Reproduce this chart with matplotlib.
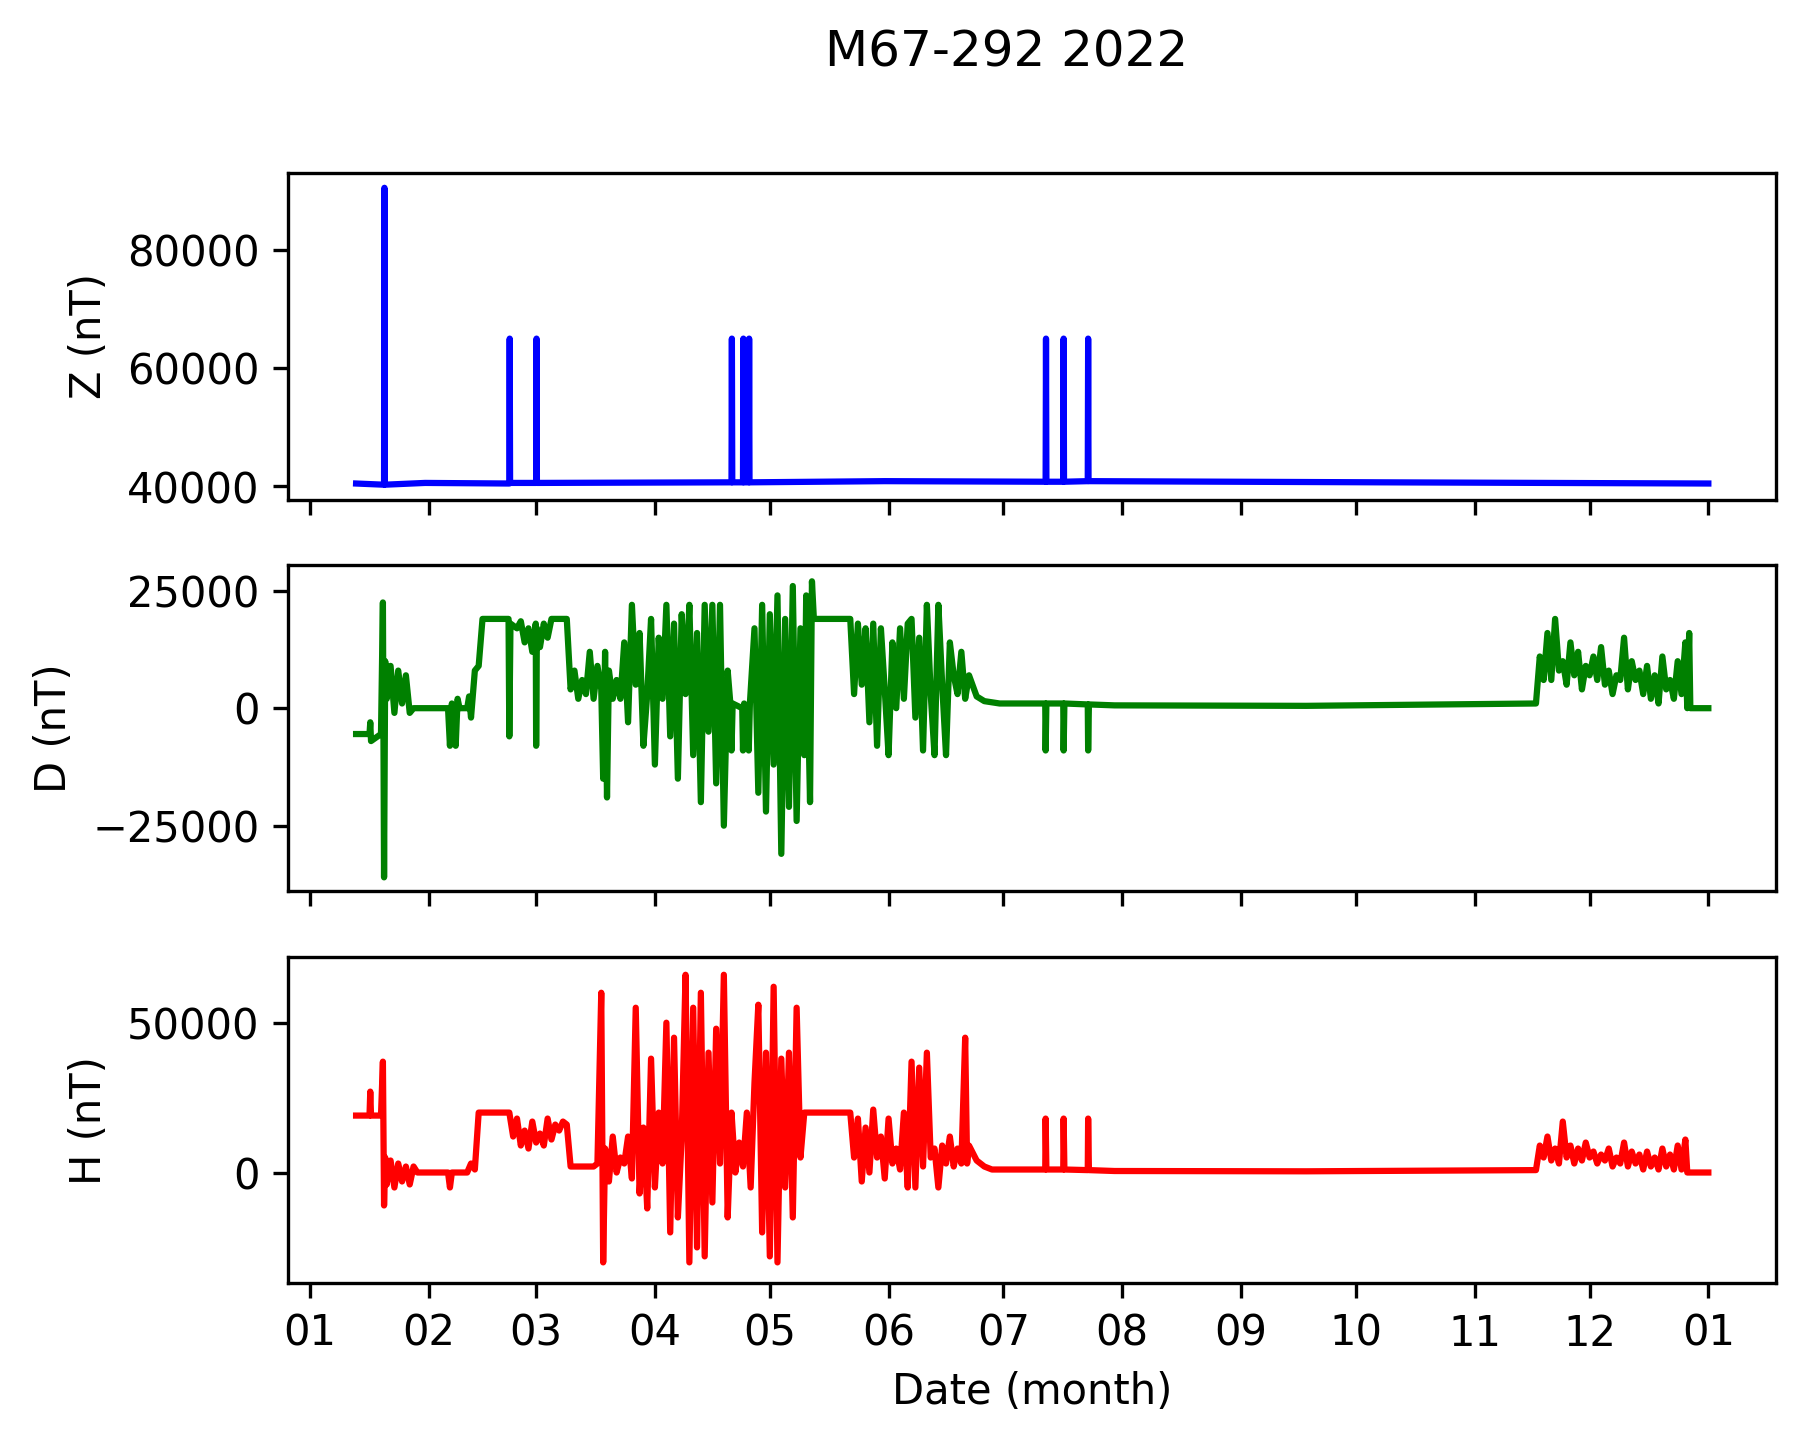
import matplotlib
matplotlib.use("Agg")
import matplotlib.pyplot as plt
import matplotlib.dates as mdates
import datetime as dt

title = "M67-292 2022"
# (day since 2022-01-01, value)
z_points = [(12, 40500), (19.3, 40300), (19.4, 90500), (19.5, 40300), (30, 40600), (52, 40500), (52.1, 65000),
            (52.2, 40600), (59, 40600), (59.1, 65000), (59.2, 40600), (110, 40700), (110.1, 65000), (110.2, 40700),
            (113, 40700), (113.1, 65000), (113.2, 40700), (114.5, 40700), (114.6, 65000), (114.7, 40700),
            (150, 40900), (192, 40800), (192.1, 65000), (192.2, 40800), (196.6, 40800), (196.7, 65000),
            (196.8, 40800), (203, 40900), (203.1, 65000), (203.2, 40900), (280, 40700), (365, 40500)]

d_points = [(12, -5500), (15.5, -5500), (15.7, -3000), (15.9, -7000), (18.5, -5500), (19, 22500), (19.3, -36000),
            (19.6, 10000), (20, 2000), (21, 9000), (22, -1000), (23, 8000), (24, 1000), (25, 7000), (26, -1000),
            (27, 0), (36, 0), (36.5, -8000), (37, 1000), (38, -8000), (38.5, 2000), (39, 0), (41, 0), (41.5, 2500),
            (42, -2000), (43, 8000), (44, 9000), (45, 19000), (51.8, 19000), (52, -6000), (52.3, 18000),
            (54, 17000), (55, 18500), (56, 14000), (57, 17000), (58, 12000), (58.9, 18000), (59, -8000),
            (59.2, 17000), (60, 13000), (61, 18000), (62, 15000), (63, 19000), (67, 19000), (68, 4000),
            (69, 8000), (70, 2000), (71, 6000), (72, 3000), (73, 12000), (74, 2000), (75, 9000), (76, 4000),
            (76.5, -15000), (77, 12000), (77.5, -19000), (78, 8000), (79, 2000), (80, 6000), (81, 2000),
            (82, 14000), (83, -3000), (84, 22000), (85, 5000), (86, 16000), (87, -8000), (88, 3000),
            (89, 19000), (90, -12000), (91, 15000), (92, 2000), (93, 22000), (94, -6000), (95, 18000),
            (96, -15000), (97, 20000), (98, 3000), (99, 22000), (100, -10000), (101, 16000), (102, -20000),
            (103, 22000), (104, -5000), (105, 22000), (106, -16000), (107, 22000), (108, -25000), (109, 8000),
            (109.8, 0), (110, -9000), (110.3, 1000), (112.8, 0), (113, -9000), (113.3, 1000), (114.5, -9000),
            (114.8, 1000), (116, 17000), (117, -18000), (118, 22000), (119, -22000), (120, 20000),
            (121, -12000), (122, 24000), (123, -31000), (124, 19000), (125, -21000), (126, 26000),
            (127, -24000), (128, 17000), (129, -10000), (129.5, 24000), (130, 0), (130.5, -20000), (131, 27000),
            (131.5, 19000), (141, 19000), (142, 3000), (143, 18000), (144, 5000), (145, 17000), (146, -3000),
            (147, 18000), (148, -8000), (149, 17000), (150, 4000), (151, -10000), (152, 14000), (153, 0),
            (154, 17000), (155, 2000), (156, 18000), (157, 19000), (158, -2000), (159, 15000), (160, -9000),
            (161, 22000), (162, 3000), (163, -10000), (164, 22000), (165, 5000), (166, -10000), (167, 14000),
            (168, 7000), (169, 3000), (170, 12000), (171, 2000), (172, 7000), (174, 2500), (176, 1500),
            (180, 1000), (191.9, 1000), (192, -9000), (192.2, 1000), (196.6, 1000), (196.7, -9000),
            (196.9, 1000), (203, 800), (203.1, -9000), (203.3, 800), (210, 600), (260, 500), (320, 1000),
            (321, 11000), (322, 6000), (323, 16000), (324, 6000), (325, 19000), (326, 8000), (327, 10000),
            (328, 5000), (329, 14000), (330, 7000), (331, 12000), (332, 4000), (333, 9000), (334, 7000),
            (335, 11000), (336, 6000), (337, 13000), (338, 5000), (339, 8000), (340, 3000), (341, 7000),
            (342, 6000), (343, 15000), (344, 4000), (345, 10000), (346, 6000), (347, 8000), (348, 3000),
            (349, 9000), (350, 2000), (351, 7000), (352, 1000), (353, 11000), (354, 4000), (355, 6000),
            (356, 2000), (357, 10000), (358, 3000), (359, 14000), (359.5, 0), (360, 16000), (360.3, 0),
            (365, 0)]

h_points = [(12, 19000), (15.5, 19000), (15.7, 27000), (15.9, 19000), (18.5, 19000), (19, 37000),
            (19.3, -11000), (19.6, 5000), (20, -4000), (21, 4000), (22, -5000), (23, 3000), (24, -3000),
            (25, 2000), (26, -4000), (27, 2000), (28, 0), (36, 0), (36.5, -5000), (37, 0), (41, 0), (42, 3000),
            (43, 1000), (44, 20000), (52, 20000), (53, 12000), (54, 18000), (55, 9000), (56, 14000), (57, 8000),
            (58, 17000), (59, 10000), (60, 13000), (61, 9000), (62, 18000), (63, 11000), (64, 16000),
            (65, 14000), (66, 17000), (67, 16000), (68, 2000), (74, 2000), (75, 3000), (76, 60000),
            (76.5, -30000), (77, 8000), (78, -3000), (79, 12000), (80, 0), (81, 5000), (82, 3000), (83, 12000),
            (84, -2000), (85, 55000), (86, -7000),
            (87, 15000), (88, -12000), (89, 38000), (90, -5000), (91, 20000), (92, 3000), (93, 50000),
            (94, -20000), (95, 45000), (96, -15000), (97, 12000), (98, 66000), (99, -30000), (100, 55000),
            (101, -25000), (102, 60000), (103, -28000), (104, 40000), (105, -10000), (106, 48000), (107, 3000),
            (108, 66000), (109, -15000), (110, 20000), (111, 0), (112, 10000), (113, 2000), (114, 20000),
            (115, -5000), (116, 30000), (117, 56000), (118, -20000), (119, 40000), (120, -28000), (121, 62000),
            (122, -30000), (123, 38000), (124, -5000), (125, 40000), (126, -15000), (127, 55000), (128, 5000),
            (129, 20000), (141, 20000), (142, 5000), (143, 18000), (144, -3000), (145, 15000), (146, 0),
            (147, 21000), (148, 5000), (149, 12000), (150, -2000), (151, 18000), (152, 3000), (153, 8000),
            (154, 1000), (155, 20000), (156, -5000), (157, 37000), (158, -5000), (159, 35000), (160, 2000),
            (161, 40000), (162, 5000), (163, 8000), (164, -5000), (165, 9000), (166, 3000), (167, 12000),
            (168, 2000), (169, 8000), (170, 3000), (171, 45000), (171.5, 3000), (172, 9000), (174, 4000),
            (176, 2000), (178, 1000), (191.9, 1000), (192, 18000), (192.2, 1000), (196.6, 1000),
            (196.7, 18000), (196.9, 1000), (203, 800), (203.1, 18000), (203.3, 800), (210, 500), (260, 400),
            (320, 800), (321, 9000), (322, 5000), (323, 12000), (324, 4000), (325, 8000), (326, 3000),
            (327, 17000), (328, 5000), (329, 9000), (330, 3000), (331, 8000), (332, 4000), (333, 10000),
            (334, 5000), (335, 7000), (336, 3000), (337, 6000), (338, 4000), (339, 8000), (340, 2000),
            (341, 5000), (342, 3000), (343, 10000), (344, 2000), (345, 7000), (346, 3000), (347, 6000),
            (348, 1000), (349, 7000), (350, 2000), (351, 5000), (352, 1000), (353, 8000), (354, 2000),
            (355, 6000), (356, 1000), (357, 9000), (358, 1000), (359, 11000), (359.5, 0), (365, 0)]

base = dt.datetime(2022, 1, 1)

def unpack(points):
    xs = [base + dt.timedelta(days=d) for d, _ in points]
    ys = [v for _, v in points]
    return xs, ys

fig, axes = plt.subplots(3, 1, figsize=(6.01, 4.807), dpi=300, sharex=True)
fig.suptitle(title, x=0.558)
series = [(z_points, "blue", "Z (nT)"), (d_points, "green", "D (nT)"), (h_points, "red", "H (nT)")]
for ax, (pts, c, lab) in zip(axes, series):
    xs, ys = unpack(pts)
    ax.plot(xs, ys, color=c)
    ax.set_ylabel(lab)
axes[0].set_yticks([40000, 60000, 80000])
axes[1].set_yticks([-25000, 0, 25000])
axes[2].set_yticks([0, 50000])
axes[1].set_ylim(-39000, 30500)
axes[2].set_ylim(-37000, 72000)
axes[2].xaxis.set_major_locator(mdates.MonthLocator())
axes[2].xaxis.set_major_formatter(mdates.DateFormatter("%m"))
axes[2].set_xlabel("Date (month)")
fig.subplots_adjust(left=0.16, right=0.985, top=0.88, bottom=0.11, hspace=0.2)
fig.savefig("out.png")
